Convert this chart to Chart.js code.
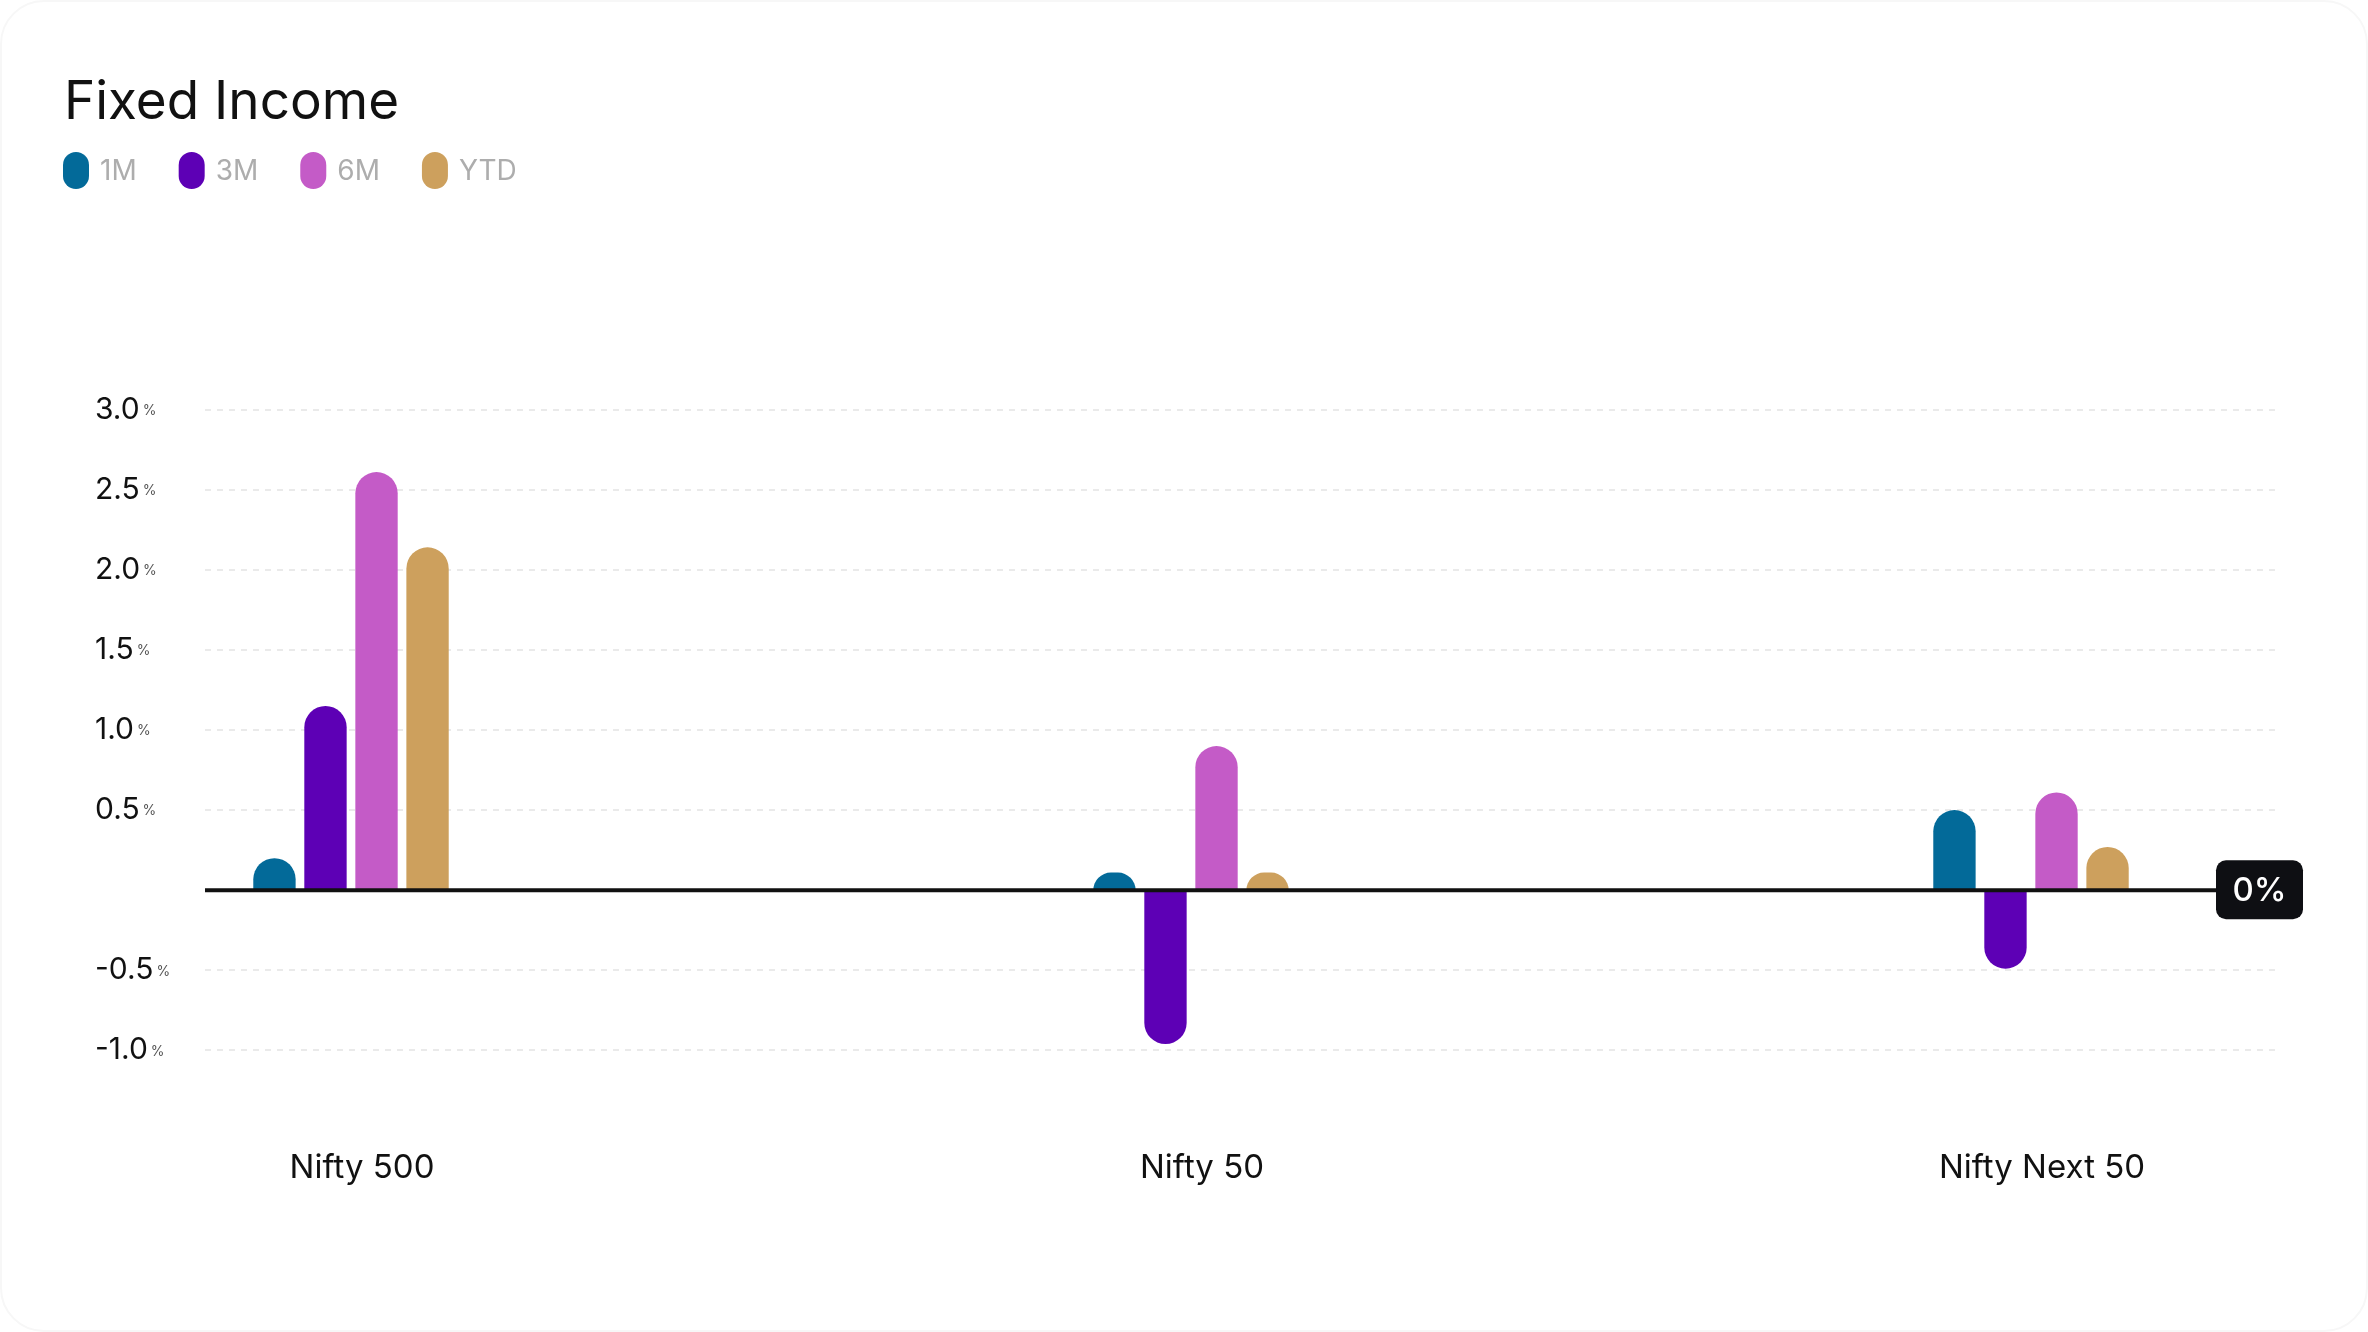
<!DOCTYPE html>
<html><head><meta charset="utf-8">
<script src="https://cdn.jsdelivr.net/npm/chart.js@4.4.1/dist/chart.umd.min.js"></script>
<style>
html,body{margin:0;padding:0;background:#fff;overflow:hidden;}
#wrap{position:relative;width:2368px;height:1332px;}
#frame{position:absolute;left:0;top:0;width:2364px;height:1328px;border:2px solid #f7f7f7;border-radius:44px;pointer-events:none;}
canvas{display:block;}
</style></head><body>
<div id="wrap"><canvas id="c" width="2368" height="1332"></canvas><div id="frame"></div></div>
<script>
const chartTitle = 'Fixed Income';
const categories = ['Nifty 500', 'Nifty 50', 'Nifty Next 50'];
const seriesNames = ['1M', '3M', '6M', 'YTD'];
const seriesColors = ['#036a99', '#5d00b5', '#c45bc7', '#cda05d'];
const values1M  = [0.20, 0.11, 0.50];
const values3M  = [1.15, -0.96, -0.49];
const values6M  = [2.61, 0.90, 0.61];
const valuesYTD = [2.14, 0.11, 0.27];
const yTickValues = [-1.0, -0.5, 0.5, 1.0, 1.5, 2.0, 2.5, 3.0];
const zeroLabel = '0%';

const seriesValues = [values1M, values3M, values6M, valuesYTD];
const FONT = 'Inter, "Noto Sans", sans-serif';

// Bars with a fully rounded (pill / dome) free end
Chart.BarElement.prototype.draw = function (ctx) {
  const {x, y, base, width} = this.getProps(['x', 'y', 'base', 'width']);
  const left = x - width / 2;
  const top = Math.min(y, base), h = Math.abs(base - y);
  if (h <= 0) return;
  const r = Math.min(width / 2, h);
  ctx.save();
  ctx.fillStyle = this.options.backgroundColor;
  ctx.beginPath();
  if (y <= base) ctx.roundRect(left, top, width, h, [r, r, 0, 0]);
  else ctx.roundRect(left, top, width, h, [0, 0, r, r]);
  ctx.fill();
  ctx.restore();
};

const decor = {
  id: 'decor',
  beforeDatasetsDraw(chart) {
    const {ctx, chartArea, scales: {y}} = chart;
    const gl = chartArea.left - 146, gr = chartArea.right + 245;
    ctx.save();
    ctx.strokeStyle = '#e3e3e3';
    ctx.lineWidth = 1.5;
    ctx.setLineDash([6, 6]);
    yTickValues.forEach(v => {
      const py = Math.round(y.getPixelForValue(v));
      ctx.beginPath(); ctx.moveTo(gl, py); ctx.lineTo(gr, py); ctx.stroke();
    });
    ctx.setLineDash([]);
    ctx.textBaseline = 'middle';
    ctx.textAlign = 'left';
    const lx = 95;
    yTickValues.forEach(v => {
      const py = y.getPixelForValue(v);
      const s = v.toFixed(1);
      ctx.font = '400 30px ' + FONT;
      ctx.fillStyle = '#111';
      ctx.fillText(s, lx, py);
      const w = ctx.measureText(s).width;
      ctx.font = '400 14px ' + FONT;
      ctx.fillStyle = '#555';
      ctx.fillText('%', lx + w + 3, py + 1);
    });
    ctx.restore();
  },
  afterDatasetsDraw(chart) {
    const {ctx, chartArea, scales: {y}} = chart;
    const py = y.getPixelForValue(0);
    const gl = chartArea.left - 146;
    const bx = chartArea.right + 185, bw = 87, bh = 59;
    ctx.save();
    ctx.strokeStyle = '#111';
    ctx.lineWidth = 4;
    ctx.beginPath(); ctx.moveTo(gl, py); ctx.lineTo(bx, py); ctx.stroke();
    ctx.fillStyle = '#0e0f13';
    ctx.beginPath();
    ctx.roundRect(bx, py - 30, bw, bh, 10);
    ctx.fill();
    ctx.fillStyle = '#fff';
    ctx.font = '500 33px ' + FONT;
    ctx.textAlign = 'center';
    ctx.textBaseline = 'middle';
    ctx.fillText(zeroLabel, bx + bw / 2, py + 1);
    ctx.restore();
  },
  afterDraw(chart) {
    const {ctx} = chart;
    ctx.save();
    let x = 63;
    const cy = 170.5;
    ctx.font = '400 28px ' + FONT;
    ctx.textBaseline = 'middle';
    ctx.textAlign = 'left';
    chart.data.datasets.forEach(ds => {
      ctx.fillStyle = ds.backgroundColor;
      ctx.beginPath();
      ctx.roundRect(x, cy - 18.5, 26, 37, 13);
      ctx.fill();
      ctx.fillStyle = '#adadad';
      ctx.fillText(ds.label, x + 37, cy + 1);
      x += 37 + ctx.measureText(ds.label).width + 42;
    });
    ctx.restore();
  }
};

function build() {
  new Chart(document.getElementById('c'), {
    type: 'bar',
    data: {
      labels: categories,
      datasets: seriesNames.map((n, i) => ({
        label: n,
        data: seriesValues[i],
        backgroundColor: seriesColors[i],
        categoryPercentage: 0.243,
        barPercentage: 0.83,
        clip: false
      }))
    },
    options: {
      responsive: false,
      animation: false,
      devicePixelRatio: 1,
      layout: {padding: {left: 64, right: 337, top: 0, bottom: 46}},
      plugins: {
        legend: {display: false},
        tooltip: {enabled: false},
        title: {
          display: true, text: chartTitle, align: 'start', color: '#111',
          font: {family: FONT, size: 53, weight: '400'},
          padding: {top: 71, bottom: 275}
        }
      },
      scales: {
        x: {
          type: 'category', offset: false,
          grid: {display: false, drawTicks: false},
          border: {display: false},
          ticks: {font: {family: FONT, size: 33}, color: '#111', padding: 98, labelOffset: 11, maxRotation: 0, autoSkip: false}
        },
        y: {
          min: -1, max: 3,
          grid: {display: false, drawTicks: false},
          border: {display: false},
          ticks: {display: false, stepSize: 0.5},
          afterFit(s) { s.width = 287; }
        }
      }
    },
    plugins: [decor]
  });
}
Promise.all([document.fonts.load('30px Inter'), document.fonts.load('500 30px Inter')]).then(build, build);
</script>
</body></html>
